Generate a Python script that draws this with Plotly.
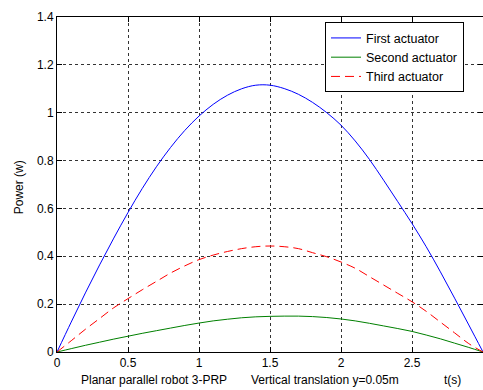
import plotly.graph_objects as go

t = [round(0.1 * i, 1) for i in range(31)]

first_actuator = [0, 0.125, 0.247, 0.364, 0.476, 0.583, 0.683, 0.774, 0.855, 0.926,
                  0.986, 1.035, 1.073, 1.100, 1.115, 1.115, 1.101, 1.077, 1.043, 1.000,
                  0.948, 0.882, 0.805, 0.718, 0.628, 0.537, 0.44, 0.335, 0.225, 0.113, 0]
second_actuator = [0, 0.014, 0.028, 0.041, 0.054, 0.066, 0.078, 0.089, 0.10, 0.111,
                   0.121, 0.13, 0.137, 0.143, 0.147, 0.149, 0.15, 0.15, 0.148, 0.144,
                   0.138, 0.13, 0.12, 0.109, 0.098, 0.086, 0.071, 0.055, 0.037, 0.019, 0]
third_actuator = [0, 0.047, 0.095, 0.14, 0.185, 0.223, 0.26, 0.295, 0.33, 0.36,
                  0.386, 0.405, 0.42, 0.432, 0.44, 0.443, 0.44, 0.432, 0.415, 0.398,
                  0.376, 0.35, 0.315, 0.28, 0.245, 0.21, 0.17, 0.125, 0.08, 0.035, 0]

x_ticks = [0, 0.5, 1, 1.5, 2, 2.5, 3]
x_tick_labels = ["0", "0.5", "1", "1.5", "2", "2.5", "3"]
y_ticks = [0, 0.2, 0.4, 0.6, 0.8, 1.0, 1.2, 1.4]
y_tick_labels = ["0", "0.2", "0.4", "0.6", "0.8", "1", "1.2", "1.4"]

FONT = "Liberation Sans, Arial, sans-serif"

fig = go.Figure()
fig.add_trace(go.Scatter(x=t, y=first_actuator, mode="lines", name="First actuator",
                         line=dict(color="#0000ff", width=1, shape="spline")))
fig.add_trace(go.Scatter(x=t, y=second_actuator, mode="lines", name="Second actuator",
                         line=dict(color="#008000", width=1, shape="spline")))
fig.add_trace(go.Scatter(x=t, y=third_actuator, mode="lines", name="Third actuator",
                         line=dict(color="#ff0000", width=1, dash="9px,5px", shape="spline")))

axis_common = dict(showline=True, linecolor="black", linewidth=1, mirror="ticks",
                   ticks="inside", ticklen=5, tickcolor="black",
                   showgrid=True, gridcolor="#333333", gridwidth=1, griddash="3px,3px",
                   zeroline=False, tickfont=dict(family=FONT, size=12, color="black"))

fig.update_xaxes(range=[0, 3], tickvals=x_ticks, ticktext=x_tick_labels, **axis_common)
fig.update_yaxes(range=[0, 1.4], tickvals=y_ticks, ticktext=y_tick_labels, **axis_common)

plot_h = 335
def py(px):
    return (351.7 - px) / plot_h

def pxx(px):
    return (px - 57) / 426

fig.update_layout(
    width=483, height=390,
    margin=dict(l=57, r=0, t=17, b=38),
    paper_bgcolor="white", plot_bgcolor="white",
    font=dict(family=FONT, size=12, color="black"),
    showlegend=True,
    legend=dict(x=pxx(325), y=py(22), xanchor="left", yanchor="top",
                bgcolor="white", bordercolor="black", borderwidth=1,
                font=dict(family=FONT, size=12.5, color="black"),
                tracegroupgap=0, itemwidth=30),
    annotations=[
        dict(text="Planar parallel robot 3-PRP", xref="paper", yref="paper",
             x=pxx(79), y=py(380), xanchor="left", yanchor="middle", showarrow=False,
             font=dict(family=FONT, size=12, color="black")),
        dict(text="Vertical translation y=0.05m", xref="paper", yref="paper",
             x=pxx(249), y=py(380), xanchor="left", yanchor="middle", showarrow=False,
             font=dict(family=FONT, size=12, color="black")),
        dict(text="t(s)", xref="paper", yref="paper",
             x=pxx(442), y=py(380), xanchor="left", yanchor="middle", showarrow=False,
             font=dict(family=FONT, size=12, color="black")),
        dict(text="Power (w)", xref="paper", yref="paper",
             x=pxx(19), y=py(187), xanchor="center", yanchor="middle", showarrow=False,
             textangle=-90, font=dict(family=FONT, size=12, color="black")),
    ],
)

fig.write_html("out.html")
